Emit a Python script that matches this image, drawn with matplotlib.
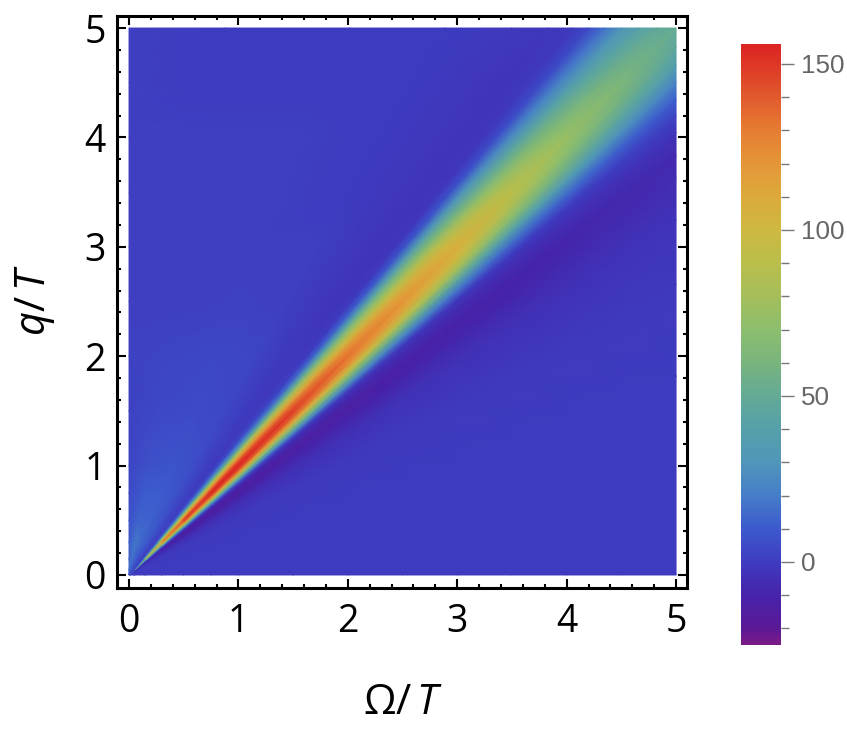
import numpy as np
import matplotlib
matplotlib.use('Agg')
import matplotlib.pyplot as plt
from matplotlib.colors import LinearSegmentedColormap, Normalize
from matplotlib.ticker import MultipleLocator

plt.rcParams['font.family'] = ['Open Sans', 'DejaVu Sans']
plt.rcParams['mathtext.fontset'] = 'custom'
plt.rcParams['mathtext.rm'] = 'Open Sans'
plt.rcParams['mathtext.it'] = 'Open Sans:italic'

# colour bar
cvals = [-25, -20, -10, 0, 10, 20, 30, 40, 50, 60, 70, 80, 90, 100, 110, 120, 130, 140, 150, 156]
ccols = [(123, 26, 135), (90, 25, 150), (70, 35, 170), (62, 60, 192), (60, 90, 205),
         (70, 125, 200), (80, 150, 185), (85, 160, 170), (100, 170, 150), (120, 180, 125),
         (140, 190, 110), (165, 190, 90), (185, 190, 75), (205, 185, 65), (220, 170, 60),
         (228, 150, 55), (230, 125, 50), (225, 90, 45), (222, 55, 38), (220, 35, 35)]

# field read along rays from the origin: angle of the ray (deg), distance level max(W, q)
angles = [0, 20, 28, 33, 36, 37.5, 39, 40, 41, 42, 43, 44, 45, 46, 47, 48, 49, 50, 51, 52.5, 55, 60, 68, 80, 90]
levels = [0, 0.05, 0.15, 0.3, 0.5, 0.75, 1, 1.5, 2, 2.5, 3, 3.5, 4, 4.5, 5]
field = [
    [5, 5, 5, 5, 5, 5, 5, 5, 5, 5, 5, 5, 5, 5, 5, 5, 5, 5, 5, 5, 5, 5, 5, 5, 5],
    [0, 0, 0, -1, -2, -3, -3, -2, 0, 5, 12, 22, 30, 25, 18, 12, 8, 5, 4, 3, 3, 5, 8, 15, 12],
    [0, 0, 0, -2, -4, -6, -5, -2, 6, 20, 45, 62, 70, 65, 50, 33, 18, 9, 4, 2, 3, 6, 10, 18, 12],
    [0, 0, -1, -4, -8, -10, -7, 0, 16, 42, 80, 106, 115, 108, 88, 62, 34, 14, 5, 2, 3, 9, 13, 18, 10],
    [0, 0, -1, -5, -11, -13, -9, 1, 24, 60, 104, 133, 145, 136, 112, 80, 44, 18, 5, 1, 3, 8, 12, 13, 7],
    [0, 0, -1, -5, -12, -14, -9, 2, 27, 68, 113, 143, 155, 146, 122, 88, 48, 19, 5, 0, 2, 7, 10, 10, 5],
    [0, 0, -1, -5, -12, -14, -9, 2, 28, 70, 115, 145, 156, 148, 125, 90, 50, 20, 5, -1, 1, 6, 8, 7, 3],
    [0, 0, -1, -5, -11, -13, -8, 0, 26, 66, 109, 138, 148, 140, 118, 86, 47, 15, 3, -1, 0, 4, 5, 4, 2],
    [0, 0, -1, -5, -11, -13, -8, -1, 24, 60, 98, 124, 133, 126, 106, 77, 42, 12, 0, -2, -1, 3, 4, 3, 2],
    [0, 0, -1, -4, -10, -12, -7, -1, 21, 54, 89, 112, 120, 114, 96, 70, 38, 10, -1, -3, -2, 1, 2, 1, 1],
    [0, 0, -1, -4, -9, -11, -7, -1, 19, 48, 79, 100, 107, 102, 86, 62, 34, 8, -2, -3, -2, 1, 1, 1, 1],
    [0, 0, -1, -4, -9, -10, -6, 0, 16, 41, 67, 84, 90, 86, 72, 52, 29, 7, -2, -3, -2, 0, 1, 1, 1],
    [0, 0, -1, -4, -8, -9, -5, 0, 14, 34, 56, 70, 75, 71, 60, 44, 24, 6, -2, -3, -2, 0, 1, 1, 1],
    [0, 0, -1, -3, -7, -8, -4, 1, 12, 28, 46, 58, 62, 59, 50, 36, 20, 5, -1, -3, -2, 0, 0, 0, 1],
    [0, 0, -1, -3, -6, -7, -3, 2, 11, 23, 38, 47, 50, 48, 41, 30, 17, 4, -1, -2, -1, 0, 0, 0, 1],
]

W, H = 847, 741
fig = plt.figure(figsize=(W / 100, H / 100), dpi=100)
ax = fig.add_axes([117 / W, (H - 588) / H, 570 / W, 572 / H])

norm = Normalize(-25, 156)
cmap = LinearSegmentedColormap.from_list(
    'rainbowish',
    [(norm(v), tuple(c / 255 for c in col)) for v, col in zip(cvals, ccols)], N=512)

# rays end on the square's edge, so each level is a square around the origin
th = np.radians(angles)
dx, dy = np.cos(th), np.sin(th)
edge = np.maximum(dx, dy)
X = np.outer(levels, dx / edge)
Y = np.outer(levels, dy / edge)
mesh = ax.pcolormesh(X, Y, np.array(field, dtype=float), shading='gouraud', cmap=cmap, norm=norm)

ax.set_xlim(-0.11, 5.10)
ax.set_ylim(-0.119, 5.11)
ax.set_xticks(range(6))
ax.set_yticks(range(6))
ax.xaxis.set_minor_locator(MultipleLocator(0.2))
ax.yaxis.set_minor_locator(MultipleLocator(0.2))
ax.tick_params(which='major', direction='in', top=True, right=True, length=6.5, width=1.5, labelsize=27)
ax.tick_params(axis='x', which='major', pad=11)
ax.tick_params(axis='y', which='major', pad=8)
ax.tick_params(which='minor', direction='in', top=True, right=True, length=3.2, width=1.5)
for sp in ax.spines.values():
    sp.set_linewidth(2.2)

fig.text(403 / W, 1 - 703 / H, r'$\mathrm{\Omega/}\,T$', fontsize=30, ha='center', va='center')
fig.text(35 / W, 1 - 300 / H, r'$q\mathrm{/}\,T$', fontsize=30, ha='center', va='center', rotation=90)

cax = fig.add_axes([741 / W, (H - 645) / H, 40 / W, 601 / H])
cb = fig.colorbar(mesh, cax=cax)
cb.outline.set_visible(False)
cb.set_ticks(list(range(-20, 151, 10)))
cb.set_ticklabels([str(v) if v % 50 == 0 else '' for v in range(-20, 151, 10)])
cax.tick_params(which='major', color='#777777', labelcolor='#666666', length=5.8, width=1.0, pad=8.5, labelsize=18.7)
for lab in cax.get_yticklabels():
    lab.set_fontfamily(['Liberation Sans', 'DejaVu Sans'])
for v, tk in zip(range(-20, 151, 10), cax.yaxis.get_major_ticks()):
    if v % 50 == 0:
        tk.tick2line.set_markersize(9.4)

fig.savefig('out.png', dpi=100)
